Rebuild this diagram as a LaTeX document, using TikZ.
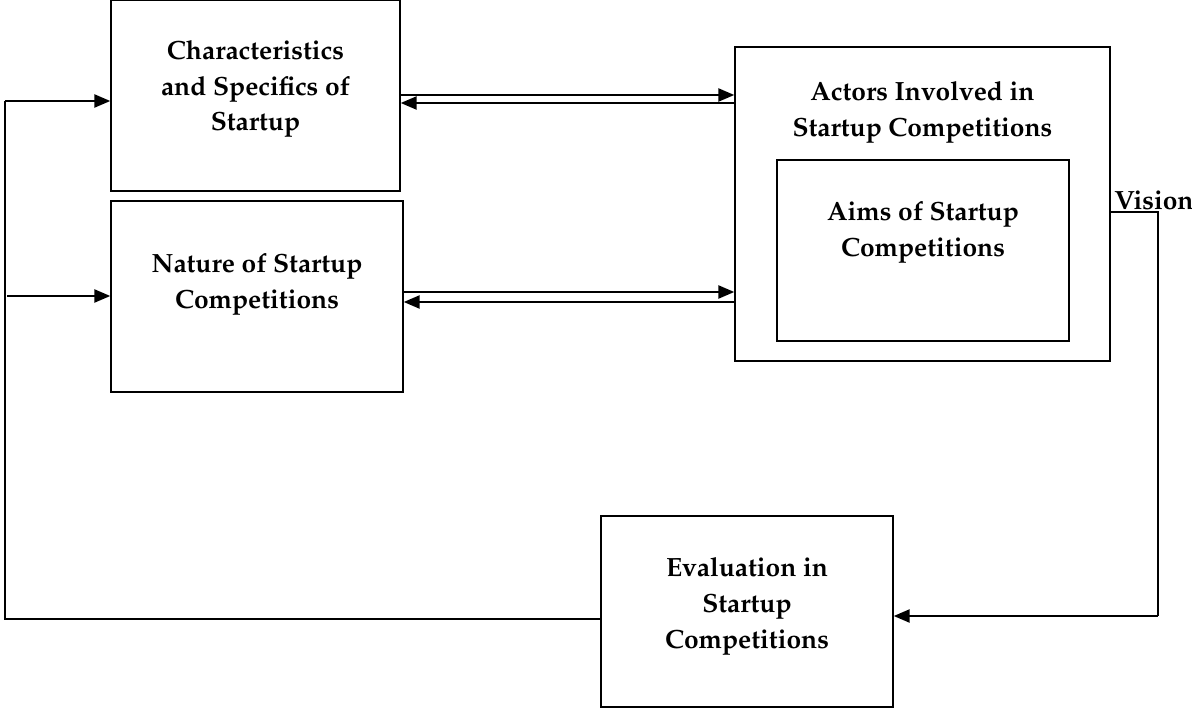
\documentclass[tikz,border=0pt]{standalone}
\usepackage[T1]{fontenc}
\usepackage{mathpazo}
\usepackage{tikz}
\usetikzlibrary{arrows.meta,positioning,calc}

\begin{document}
\begin{tikzpicture}[scale=1.0,
  box/.style={draw,line width=0.9pt,inner sep=0pt},
  lbl/.style={align=center,font=\fontsize{15}{20.4}\selectfont\bfseries},
  arr/.style={line width=0.9pt,-{Triangle[length=9pt,width=7.5pt]}},
  wire/.style={line width=0.9pt}]
\useasboundingbox (0,0) rectangle (23.84,-14.18);
% boxes
\node[box,minimum width=5.78cm,minimum height=3.82cm] (chars)  at (5.11,-1.91) {};
\node[box,minimum width=5.84cm,minimum height=3.82cm] (nature) at (5.14,-5.93) {};
\node[box,minimum width=7.50cm,minimum height=6.28cm] (actors) at (18.45,-4.08) {};
\node[box,minimum width=5.84cm,minimum height=3.62cm] (aims)   at (18.46,-5.01) {};
\node[box,minimum width=5.84cm,minimum height=3.82cm] (eval)   at (14.94,-12.23) {};
% texts
\node[lbl] (charstxt)  at (5.11,-1.78)  {Characteristics\\and Specifics of\\Startup};
\node[lbl] (naturetxt) at (5.14,-5.68)  {Nature of Startup\\Competitions};
\node[lbl] (actorstxt) at (18.45,-2.25) {Actors Involved in\\Startup Competitions};
\node[lbl] (aimstxt)   at (18.46,-4.64) {Aims of Startup\\Competitions};
\node[lbl] (evaltxt)   at (14.94,-12.12) {Evaluation in\\Startup\\Competitions};
\node[lbl] (vision)    at (23.08,-4.0)  {Vision};
% two-way links
\draw[arr] (chars.east |- 0,-1.90) -- (actors.west |- 0,-1.90);
\draw[arr] (actors.west |- 0,-2.06) -- (chars.east |- 0,-2.06);
\draw[arr] (nature.east |- 0,-5.84) -- (actors.west |- 0,-5.84);
\draw[arr] (actors.west |- 0,-6.04) -- (nature.east |- 0,-6.04);
% vision loop
\coordinate (vcorner) at (23.16,-4.24);
\coordinate (vdown)   at (23.16,-12.32);
\draw[wire] (actors.east |- vcorner) -- (vcorner) -- (vdown);
\draw[arr] (vdown) -- (eval.east |- vdown);
% feedback
\coordinate (fbot) at (0.10,-12.38);
\coordinate (ftop) at (0.10,-2.02);
\coordinate (fmid) at (0.14,-5.92);
\draw[wire] (eval.west |- fbot) -- (fbot) -- (ftop);
\draw[arr] (ftop) -- (chars.west |- ftop);
\draw[arr] (fmid) -- (nature.west |- fmid);
\end{tikzpicture}
\end{document}
